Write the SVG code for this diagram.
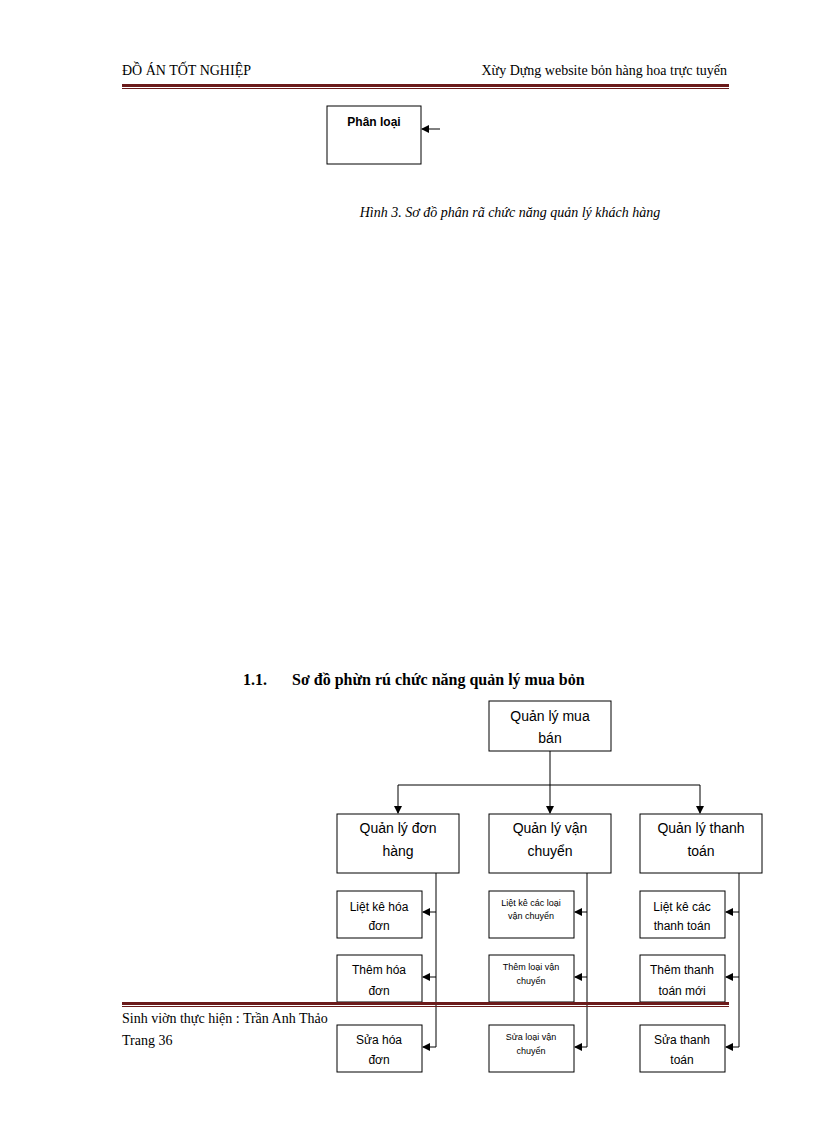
<svg xmlns="http://www.w3.org/2000/svg" width="816" height="1123" viewBox="0 0 816 1123">
<style>
.serif{font-family:"Liberation Serif",serif;fill:#000}
.sans{font-family:"Liberation Sans",Arial,sans-serif;fill:#000;text-anchor:middle}
.box{fill:#fff;stroke:#000;stroke-width:1}
.ln{fill:none;stroke:#000;stroke-width:1}
</style>
<defs><marker id="ar" markerWidth="8" markerHeight="8" refX="7" refY="4" orient="auto" markerUnits="userSpaceOnUse"><path d="M0,0 L8,4 L0,8 Z" fill="#000"/></marker></defs>
<rect width="816" height="1123" fill="#fff"/>
<text class="serif" x="122" y="75" font-size="14">ĐỒ ÁN TỐT NGHIỆP</text>
<text class="serif" x="727" y="75" font-size="14" text-anchor="end">Xừy Dựng website bỏn hàng hoa trực tuyến</text>
<rect x="122" y="84" width="607" height="3" fill="#6b1a1a"/>
<rect x="122" y="88" width="607" height="1" fill="#6b1a1a"/>
<g id="phanloai"><rect class="box" x="327" y="106" width="94" height="58"/><text class="sans" x="374" y="126" font-size="12" font-weight="bold">Phân loại</text></g>
<text class="serif" x="510" y="217" font-size="14" font-style="italic" text-anchor="middle">Hình 3. Sơ đồ phân rã chức năng quản lý khách hàng</text>
<text class="serif" x="243" y="685" font-size="16" font-weight="bold">1.1.</text>
<text class="serif" x="292" y="685" font-size="16" font-weight="bold">Sơ đồ phừn rú chức năng quản lý mua bỏn</text>
<g id="connectors">
<line class="ln" x1="119" y1="420" x2="119" y2="420"/>
<path class="ln" d="M440,129 L422,129" marker-end="url(#ar)"/>
<path class="ln" d="M550,751 V785 M398,785 H700"/>
<path class="ln" d="M550,785 V813" marker-end="url(#ar)"/>
<path class="ln" d="M398,785 V813" marker-end="url(#ar)"/>
<path class="ln" d="M700,785 V813" marker-end="url(#ar)"/>
<path class="ln" d="M436,873 V1047 M587,873 V1047 M739,873 V1047"/>
<path class="ln" d="M436,912 H423" marker-end="url(#ar)"/>
<path class="ln" d="M436,977 H423" marker-end="url(#ar)"/>
<path class="ln" d="M436,1047 H423" marker-end="url(#ar)"/>
<path class="ln" d="M587,912 H575" marker-end="url(#ar)"/>
<path class="ln" d="M587,977 H575" marker-end="url(#ar)"/>
<path class="ln" d="M587,1047 H575" marker-end="url(#ar)"/>
<path class="ln" d="M739,912 H726" marker-end="url(#ar)"/>
<path class="ln" d="M739,977 H726" marker-end="url(#ar)"/>
<path class="ln" d="M739,1047 H726" marker-end="url(#ar)"/>
</g>
<g id="n0"><rect class="box" x="489" y="701" width="122" height="50"/><text class="sans" x="550" y="721" font-size="14">Quản lý mua</text><text class="sans" x="550" y="743" font-size="14">bán</text></g>
<g id="n1"><rect class="box" x="337" y="814" width="122" height="59"/><text class="sans" x="398" y="833" font-size="14">Quản lý đơn</text><text class="sans" x="398" y="856" font-size="14">hàng</text></g>
<g id="n2"><rect class="box" x="489" y="814" width="122" height="59"/><text class="sans" x="550" y="833" font-size="14">Quản lý vận</text><text class="sans" x="550" y="856" font-size="14">chuyển</text></g>
<g id="n3"><rect class="box" x="640" y="814" width="122" height="59"/><text class="sans" x="701" y="833" font-size="14">Quản lý thanh</text><text class="sans" x="701" y="856" font-size="14">toán</text></g>
<g id="a1"><rect class="box" x="337" y="891" width="85" height="47"/><text class="sans" x="379" y="911" font-size="12">Liệt kê hóa</text><text class="sans" x="379" y="930" font-size="12">đơn</text></g>
<g id="a2"><rect class="box" x="337" y="955" width="85" height="47"/><text class="sans" x="379" y="974" font-size="12">Thêm hóa</text><text class="sans" x="379" y="995" font-size="12">đơn</text></g>
<g id="a3"><rect class="box" x="337" y="1025" width="85" height="47"/><text class="sans" x="379" y="1044" font-size="12">Sửa hóa</text><text class="sans" x="379" y="1064" font-size="12">đơn</text></g>
<g id="b1"><rect class="box" x="489" y="891" width="85" height="47"/><text class="sans" x="531" y="906" font-size="9">Liệt kê các loại</text><text class="sans" x="531" y="919" font-size="9">vận chuyển</text></g>
<g id="b2"><rect class="box" x="489" y="955" width="85" height="47"/><text class="sans" x="531" y="970" font-size="9">Thêm  loại vận</text><text class="sans" x="531" y="984" font-size="9">chuyển</text></g>
<g id="b3"><rect class="box" x="489" y="1025" width="85" height="47"/><text class="sans" x="531" y="1040" font-size="9">Sửa loại vận</text><text class="sans" x="531" y="1054" font-size="9">chuyển</text></g>
<g id="c1"><rect class="box" x="640" y="891" width="85" height="47"/><text class="sans" x="682" y="911" font-size="12">Liệt kê các</text><text class="sans" x="682" y="930" font-size="12">thanh toán</text></g>
<g id="c2"><rect class="box" x="640" y="955" width="85" height="47"/><text class="sans" x="682" y="974" font-size="12">Thêm thanh</text><text class="sans" x="682" y="995" font-size="12">toán mới</text></g>
<g id="c3"><rect class="box" x="640" y="1025" width="85" height="47"/><text class="sans" x="682" y="1044" font-size="12">Sửa thanh</text><text class="sans" x="682" y="1064" font-size="12">toán</text></g>
<rect x="122" y="1002" width="607" height="3" fill="#6b1a1a"/>
<rect x="122" y="1006" width="607" height="1" fill="#6b1a1a"/>
<text class="serif" x="122" y="1023" font-size="14">Sinh viờn thực hiện : Trần Anh Thảo</text>
<text class="serif" x="122" y="1045" font-size="14">Trang 36</text>
</svg>
